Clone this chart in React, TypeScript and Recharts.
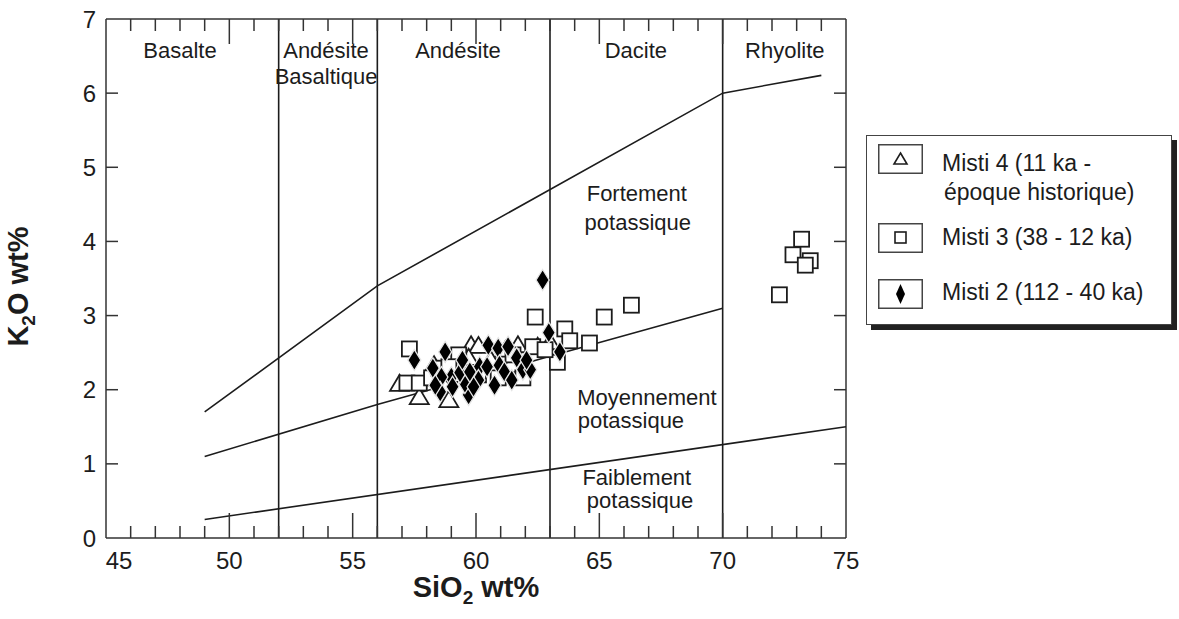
import React from 'react';
import { ScatterChart, Scatter, XAxis, YAxis, ReferenceLine, ReferenceDot, Legend } from 'recharts';

// ---- Data ----
const misti4X = [56.9, 57.7, 58.9, 58.3, 58.6, 59.8, 60.1, 59.7, 60.6, 61.2, 61.7, 62.5, 63.0, 61.4, 59.5, 58.7];
const misti4Y = [2.08, 1.90, 1.86, 2.33, 2.24, 2.60, 2.59, 2.43, 2.40, 2.54, 2.60, 2.58, 2.64, 2.33, 2.20, 2.06];

const misti3X = [57.3, 62.4, 63.6, 63.8, 64.6, 65.2, 66.3, 63.3, 62.3, 60.9, 61.9, 59.3, 57.2, 57.7, 58.2, 58.5, 58.9, 60.1, 61.5, 62.8, 73.2, 72.85, 73.55, 73.35, 72.3];
const misti3Y = [2.55, 2.98, 2.82, 2.66, 2.63, 2.98, 3.14, 2.37, 2.58, 2.16, 2.16, 2.47, 2.09, 2.09, 2.16, 2.29, 2.31, 2.20, 2.47, 2.54, 4.03, 3.82, 3.74, 3.68, 3.28];

const misti2X = [57.5, 62.7, 62.95, 63.4, 58.75, 58.25, 59.0, 59.05, 59.7, 60.15, 60.1, 60.45, 60.5, 60.9, 61.3, 60.95, 61.15, 61.65, 61.9, 62.2, 59.55, 59.9, 59.35, 58.6, 58.55, 59.75, 60.75, 61.45, 62.05, 58.35, 59.45];
const misti2Y = [2.40, 3.48, 2.77, 2.51, 2.51, 2.29, 2.17, 2.04, 1.93, 2.31, 2.13, 2.31, 2.60, 2.56, 2.58, 2.33, 2.24, 2.43, 2.27, 2.27, 2.09, 2.04, 2.23, 2.17, 1.97, 2.24, 2.06, 2.13, 2.40, 2.06, 2.40];

const highKX = [49, 56, 70, 74];
const highKY = [1.7, 3.4, 6.0, 6.24];
const medKX = [49, 56, 63, 70];
const medKY = [1.1, 1.8, 2.45, 3.1];
const lowKX = [49, 75];
const lowKY = [0.25, 1.5];

const rockBoundaries = [52, 56, 63, 70];

const xTicks = [45, 46, 47, 48, 49, 50, 51, 52, 53, 54, 55, 56, 57, 58, 59, 60, 61, 62, 63, 64, 65, 66, 67, 68, 69, 70, 71, 72, 73, 74, 75];
const yTicks = [0, 1, 2, 3, 4, 5, 6, 7];

const annotText = ['Basalte', 'Andésite', 'Basaltique', 'Andésite', 'Dacite', 'Rhyolite', 'Fortement', 'potassique', 'Moyennement', 'potassique', 'Faiblement', 'potassique'];
const annotX = [48.0, 53.92, 53.92, 59.27, 66.48, 72.52, 66.52, 66.56, 66.93, 66.28, 66.52, 66.65];
const annotY = [6.58, 6.58, 6.22, 6.58, 6.58, 6.58, 4.65, 4.26, 1.90, 1.58, 0.81, 0.50];

const legendLabels = [['Misti 4 (11 ka -', 'époque historique)'], ['Misti 3 (38 - 12 ka)'], ['Misti 2 (112 - 40 ka)']];

const zip = (xs: number[], ys: number[]) => xs.map((x, i) => ({ x, y: ys[i] }));

const FONT = '"Liberation Sans", Arial, Helvetica, sans-serif';
const INK = '#1c1c1c';

// ---- Shapes ----
const Triangle = (p: any) => {
  const { cx, cy } = p;
  return <polygon points={`${cx},${cy - 9} ${cx + 9.5},${cy + 7} ${cx - 9.5},${cy + 7}`} fill="#fff" stroke={INK} strokeWidth={1.8} />;
};
const Square = (p: any) => {
  const { cx, cy } = p;
  return <rect x={cx - 7.5} y={cy - 7.5} width={15} height={15} fill="#fff" stroke={INK} strokeWidth={1.8} />;
};
const Diamond = (p: any) => {
  const { cx, cy } = p;
  return <path d={`M${cx},${cy - 10.5} L${cx + 6.5},${cy} L${cx},${cy + 10.5} L${cx - 6.5},${cy} Z`} fill="#000" stroke="#e6e6e6" strokeWidth={1.3} />;
};
const NoDot = () => <g />;

// ---- Ticks ----
const BottomTick = (p: any) => {
  const { x, y, payload } = p;
  const v = payload.value;
  const major = v % 5 === 0;
  const len = major ? 25 : 12;
  return (
    <g>
      {v !== 45 && v !== 75 && <line x1={x} y1={y} x2={x} y2={y - len} stroke="#333" strokeWidth={1.5} />}
      {major && (
        <text x={x + (v === 45 ? 13 : 0)} y={y + 31} textAnchor="middle" fontSize={24} fontFamily={FONT} fill={INK}>
          {v}
        </text>
      )}
    </g>
  );
};
const TopTick = (p: any) => {
  const { x, y, payload } = p;
  const v = payload.value;
  const major = v % 5 === 0;
  const len = major ? 25 : 12;
  if (v === 45 || v === 75) return <g />;
  return <line x1={x} y1={y} x2={x} y2={y + len} stroke="#333" strokeWidth={1.5} />;
};
const LeftTick = (p: any) => {
  const { x, y, payload } = p;
  const v = payload.value;
  return (
    <g>
      {v !== 0 && v !== 7 && <line x1={x} y1={y} x2={x + 12} y2={y} stroke="#333" strokeWidth={1.5} />}
      <text x={x - 10} y={y + 8.5} textAnchor="end" fontSize={24} fontFamily={FONT} fill={INK}>
        {v}
      </text>
    </g>
  );
};
const RightTick = (p: any) => {
  const { x, y, payload } = p;
  const v = payload.value;
  if (v === 0 || v === 7) return <g />;
  return <line x1={x} y1={y} x2={x - 12} y2={y} stroke="#333" strokeWidth={1.5} />;
};

const YLabel = (p: any) => {
  const vb = p.viewBox;
  const cx = vb.x - 18;
  const cy = vb.y + vb.height / 2 + 8;
  return (
    <text transform={`translate(${cx},${cy}) rotate(-90)`} textAnchor="middle" fontSize={29} fontWeight="bold" fontFamily={FONT} fill={INK}>
      <tspan>K</tspan>
      <tspan dy={7} fontSize={19}>2</tspan>
      <tspan dy={-7}>O wt%</tspan>
    </text>
  );
};
const XLabel = (p: any) => {
  const vb = p.viewBox;
  const cx = vb.x + vb.width / 2;
  const cy = vb.y + 59;
  return (
    <text x={cx} y={cy} textAnchor="middle" fontSize={29} fontWeight="bold" fontFamily={FONT} fill={INK}>
      <tspan>SiO</tspan>
      <tspan dy={7} fontSize={19}>2</tspan>
      <tspan dy={-7}> wt%</tspan>
    </text>
  );
};

const AnnotShape = (text: string) => (p: any) => (
  <text x={p.cx} y={p.cy} textAnchor="middle" dominantBaseline="central" fontSize={22} fontFamily={FONT} fill={INK}>
    {text}
  </text>
);

const iconFor = (i: number) => {
  if (i === 0) return <polygon points="22.5,9 29,20 16,20" fill="#fff" stroke={INK} strokeWidth={1.6} />;
  if (i === 1) return <rect x={17} y={9} width={11} height={11} fill="#fff" stroke={INK} strokeWidth={1.6} />;
  return <path d="M22.5,5 L27,15 L22.5,25 L18,15 Z" fill="#000" />;
};

const LegendBox = () => {
  const iconTops = [8, 87, 143];
  const textTops = [13, 87, 142];
  return (
    <div
      style={{
        position: 'relative',
        width: 306,
        height: 190,
        boxSizing: 'border-box',
        border: '1.5px solid #444',
        background: '#fff',
        boxShadow: '5px 5px 0 #222',
        fontFamily: FONT,
        fontSize: 23,
        color: INK,
      }}
    >
      {legendLabels.map((lines, i) => (
        <React.Fragment key={i}>
          <svg
            width={45}
            height={30}
            style={{ position: 'absolute', left: 11, top: iconTops[i] }}
          >
            <rect x={0.75} y={0.75} width={43.5} height={28.5} fill="#fff" stroke="#444" strokeWidth={1.5} />
            {iconFor(i)}
          </svg>
          <div style={{ position: 'absolute', left: 75, top: textTops[i], lineHeight: '29px', whiteSpace: 'nowrap' }}>
            {lines.map((l, j) => (
              <div key={j} style={{ paddingLeft: j > 0 ? 2 : 0 }}>{l}</div>
            ))}
          </div>
        </React.Fragment>
      ))}
    </div>
  );
};

export default function App() {
  return (
    <div style={{ position: 'absolute', left: 0, top: 0, width: 1179, height: 619, background: '#fff' }}>
      <ScatterChart width={1179} height={619} margin={{ top: 18, right: 332, bottom: 41, left: 46 }}>
        <XAxis
          type="number"
          dataKey="x"
          domain={[45, 75]}
          ticks={xTicks}
          interval={0}
          allowDataOverflow
          height={40}
          tickSize={0}
          tickMargin={0}
          tickLine={false}
          axisLine={{ stroke: '#333', strokeWidth: 1.5 }}
          tick={<BottomTick />}
          label={{ content: <XLabel /> } as any}
        />
        <XAxis
          xAxisId="top"
          orientation="top"
          type="number"
          dataKey="x"
          domain={[45, 75]}
          ticks={xTicks}
          interval={0}
          allowDataOverflow
          height={1}
          tickSize={0}
          tickMargin={0}
          tickLine={false}
          axisLine={{ stroke: '#333', strokeWidth: 1.5 }}
          tick={<TopTick />}
        />
        <YAxis
          type="number"
          dataKey="y"
          domain={[0, 7]}
          ticks={yTicks}
          interval={0}
          allowDataOverflow
          width={60}
          tickSize={0}
          tickMargin={0}
          tickLine={false}
          axisLine={{ stroke: '#333', strokeWidth: 1.5 }}
          tick={<LeftTick />}
          label={{ content: <YLabel /> } as any}
        />
        <YAxis
          yAxisId="right"
          orientation="right"
          type="number"
          dataKey="y"
          domain={[0, 7]}
          ticks={yTicks}
          interval={0}
          allowDataOverflow
          width={1}
          tickSize={0}
          tickMargin={0}
          tickLine={false}
          axisLine={{ stroke: '#333', strokeWidth: 1.5 }}
          tick={<RightTick />}
        />
        {rockBoundaries.map((b) => (
          <ReferenceLine key={b} x={b} stroke={INK} strokeWidth={1.6} />
        ))}
        <Scatter name="highK" data={zip(highKX, highKY)} line={{ stroke: INK, strokeWidth: 1.6 }} shape={NoDot} legendType="none" isAnimationActive={false} />
        <Scatter name="medK" data={zip(medKX, medKY)} line={{ stroke: INK, strokeWidth: 1.6 }} shape={NoDot} legendType="none" isAnimationActive={false} />
        <Scatter name="lowK" data={zip(lowKX, lowKY)} line={{ stroke: INK, strokeWidth: 1.6 }} shape={NoDot} legendType="none" isAnimationActive={false} />
        {annotText.map((t, i) => (
          <ReferenceDot key={i} x={annotX[i]} y={annotY[i]} r={1} shape={AnnotShape(t)} />
        ))}
        <Scatter name={legendLabels[0].join(' ')} data={zip(misti4X, misti4Y)} shape={Triangle} isAnimationActive={false} />
        <Scatter name={legendLabels[1][0]} data={zip(misti3X, misti3Y)} shape={Square} isAnimationActive={false} />
        <Scatter name={legendLabels[2][0]} data={zip(misti2X, misti2Y)} shape={Diamond} isAnimationActive={false} />
        <Legend
          layout="vertical"
          align="center"
          verticalAlign="middle"
          content={<LegendBox />}
          wrapperStyle={{ left: 866, top: 135, width: 306, height: 190 }}
        />
      </ScatterChart>
    </div>
  );
}
